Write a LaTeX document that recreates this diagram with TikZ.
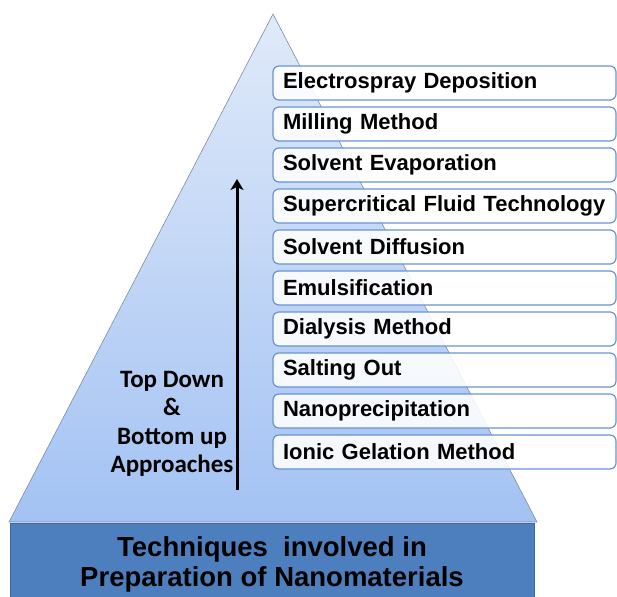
\documentclass[tikz,border=0pt]{standalone}
\usepackage{fontspec}
\setmainfont{Liberation Sans}
\newfontfamily\calibrifont{Carlito}
\usetikzlibrary{shapes,arrows.meta,positioning}
\definecolor{pyrtop}{RGB}{224,234,249}
\definecolor{pyrbot}{RGB}{163,194,243}
\definecolor{pyrline}{RGB}{125,140,165}
\definecolor{baseblue}{RGB}{77,127,190}
\definecolor{baseline}{RGB}{60,105,165}
\definecolor{boxline}{RGB}{104,148,214}
\tikzstyle{method} = [rectangle, draw=boxline, line width=1.2pt,
    rounded corners=6pt, fill=white, fill opacity=0.88, text opacity=1,
    text width=323pt, inner xsep=10pt, align=left, minimum height=34pt,
    font=\fontsize{22}{24}\selectfont\bfseries]
\tikzstyle{basebox} = [rectangle, draw=baseline, fill=baseblue, line width=1pt,
    minimum width=524pt, minimum height=82pt, align=center,
    font=\fontsize{27.5}{30}\selectfont\bfseries]
\tikzstyle{pyramid} = [draw=pyrline, line width=0.6pt,
    top color=pyrtop, bottom color=pyrbot]

\begin{document}
\begin{tikzpicture}[x=1pt, y=-1pt, node distance = 41pt]
    \useasboundingbox (0,0) rectangle (617,596);
    \draw [pyramid] (273,14) -- (537,522) -- (9,522) -- cycle;

    % base of the pyramid
    \node (base) [basebox] at (272,564) {Techniques~ involved in\\Preparation of Nanomaterials};

    % methods, top to bottom
    \node (m1) [method] at (444.5,83) {Electrospray Deposition};
    \node (m2) [method, below of=m1] {Milling Method};
    \node (m3) [method, below of=m2] {Solvent Evaporation};
    \node (m4) [method, below of=m3] {Supercritical Fluid Technology};
    \node (m5) [method, below of=m4] {Solvent Diffusion};
    \node (m6) [method, below of=m5] {Emulsification};
    \node (m7) [method, below of=m6] {Dialysis Method};
    \node (m8) [method, below of=m7] {Salting Out};
    \node (m9) [method, below of=m8] {Nanoprecipitation};
    \node (m10) [method, below of=m9] {Ionic Gelation Method};

    \node (approach) [align=center, font=\calibrifont\bfseries\fontsize{25}{28.5}\selectfont]
        at (172,424) {Top Down\\\&\\Bottom up\\Approaches};

    \coordinate (uptail) at (237,490);
    \coordinate (uptip) at (237,179);
    \draw [-{Stealth[length=11pt, width=13pt, inset=3pt]}, line width=3pt] (uptail) -- (uptip);
\end{tikzpicture}
\end{document}
